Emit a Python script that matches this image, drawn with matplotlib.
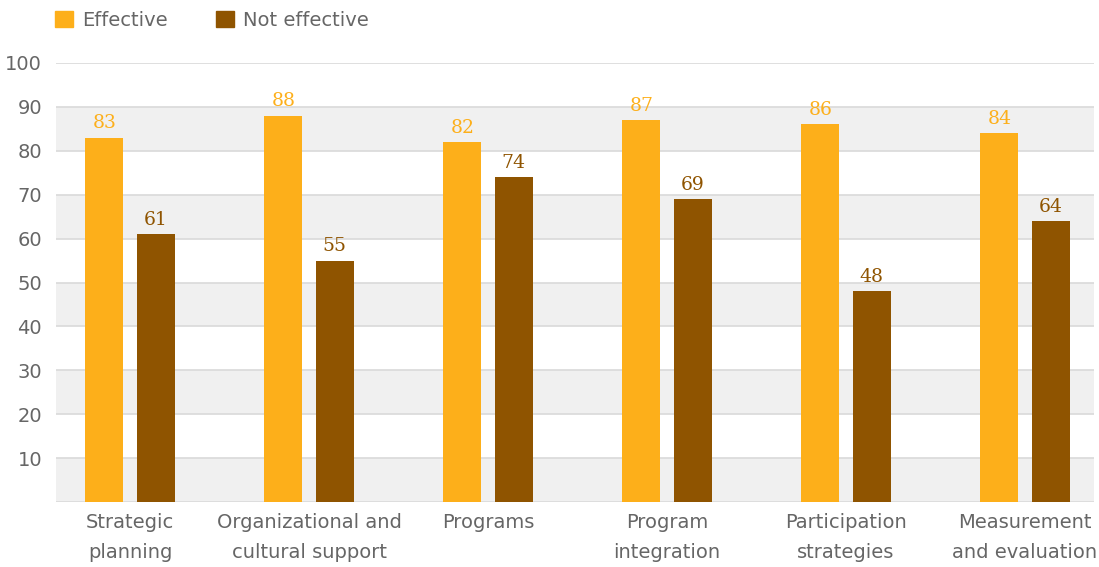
import matplotlib
matplotlib.use("Agg")
import matplotlib.pyplot as plt
from matplotlib.patches import Patch
import numpy as np

categories = ["Strategic\nplanning", "Organizational and\ncultural support", "Programs",
              "Program\nintegration", "Participation\nstrategies", "Measurement\nand evaluation"]
effective = [83, 88, 82, 87, 86, 84]
not_effective = [61, 55, 74, 69, 48, 64]
yticks = [10, 20, 30, 40, 50, 60, 70, 80, 90, 100]

c_eff = "#FDAF1A"
c_not = "#8F5400"
txt = "#666666"

fig = plt.figure(figsize=(10.99, 5.67), dpi=100)
ax = fig.add_axes([56/1099, 1-502/567, (1094-56)/1099, (502-63)/567])

x = np.arange(len(categories))
w = 0.212
off = 0.143

# bands
for lo in range(0, 100, 20):
    ax.axhspan(lo, lo+10, color="#F0F0F0", zorder=0, lw=0)
for t in range(0, 101, 10):
    ax.axhline(t, color="#DCDCDC", lw=1.3, zorder=1)

ax.bar(x-off, effective, w, color=c_eff, zorder=2)
ax.bar(x+off, not_effective, w, color=c_not, zorder=2)

for xi, v in zip(x-off, effective):
    ax.text(xi, v+1.2, str(v), ha="center", va="bottom", color=c_eff,
            fontsize=13.5, family="DejaVu Serif")
for xi, v in zip(x+off, not_effective):
    ax.text(xi, v+1.2, str(v), ha="center", va="bottom", color=c_not,
            fontsize=13.5, family="DejaVu Serif")

ax.set_xlim((56-130)/179, (1094-130)/179)
ax.set_ylim(0, 100)
ax.set_yticks(yticks)
ax.set_yticklabels([str(t) for t in yticks])
ax.set_xticks(x)
ax.set_xticklabels(categories, linespacing=1.75)
ax.tick_params(axis="both", length=0, labelsize=14, labelcolor=txt)
ax.tick_params(axis="y", pad=10)
ax.tick_params(axis="x", pad=8)
for s in ax.spines.values():
    s.set_visible(False)

handles = [Patch(color=c_eff, label="Effective"), Patch(color=c_not, label="Not effective")]
fig.legend(handles=handles, loc="upper left", bbox_to_anchor=(37/1099, 1.012), ncol=2,
           frameon=False, fontsize=14, handlelength=0.95, handleheight=0.95,
           handletextpad=0.45, columnspacing=2.5, labelcolor=txt)

fig.savefig("out.png", dpi=100)
